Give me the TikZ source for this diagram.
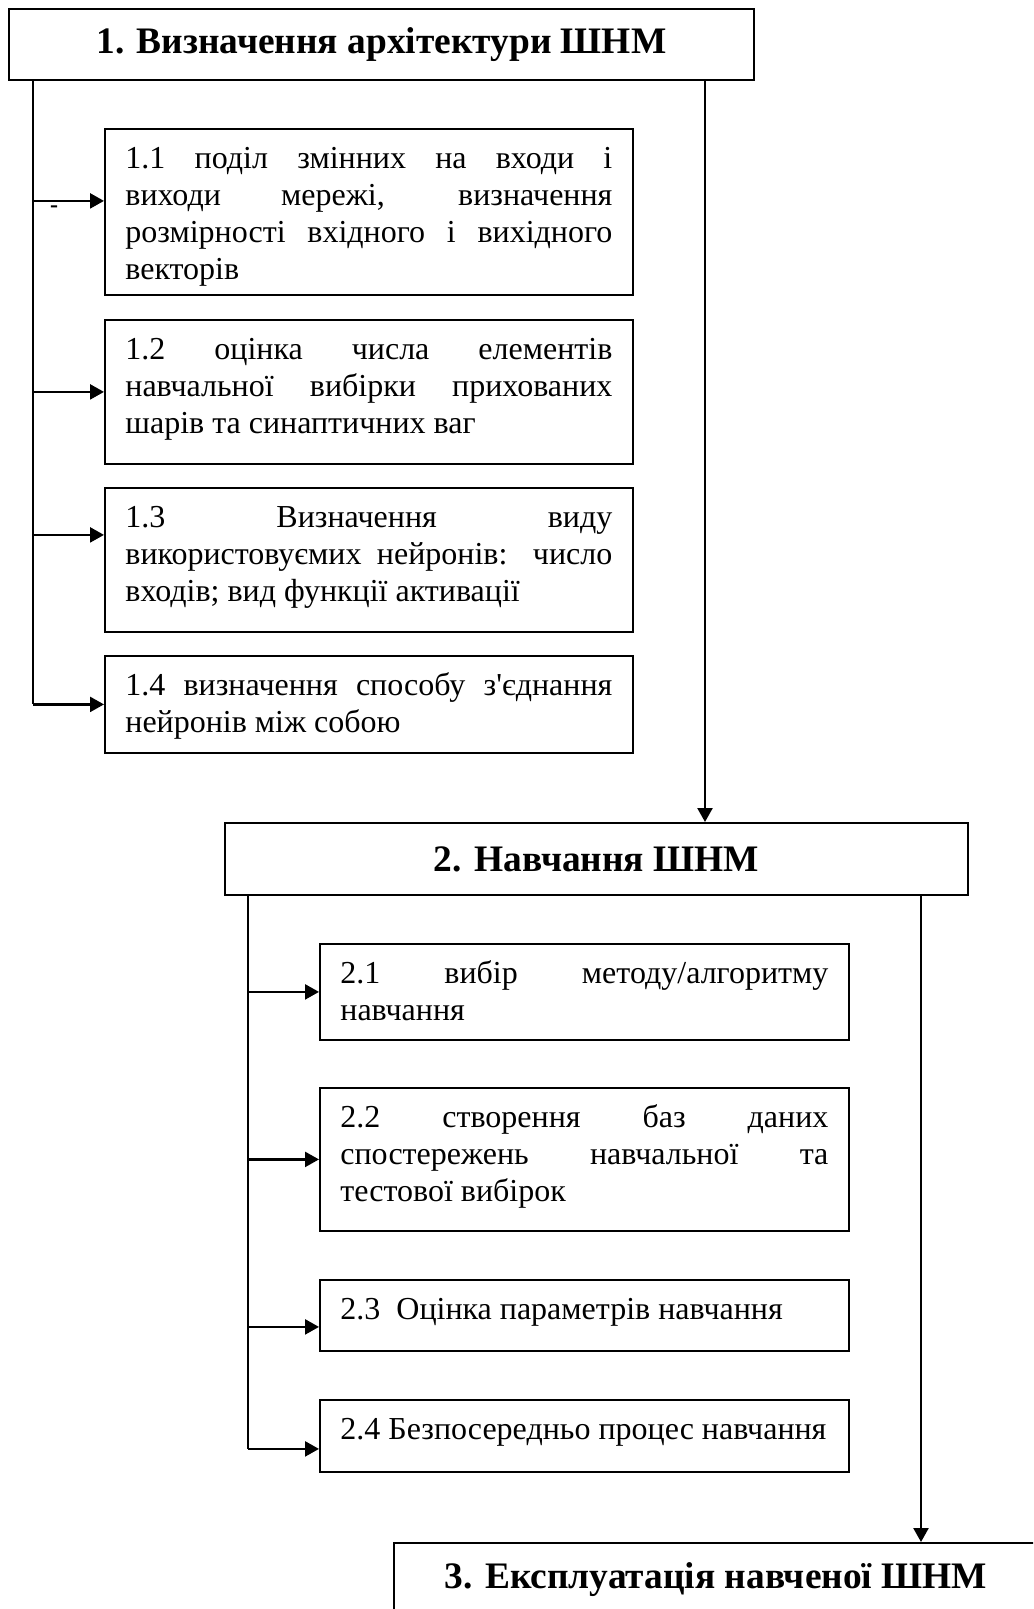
\documentclass[tikz,border=0pt]{standalone}
\usepackage{fontspec}
\setmainfont{Liberation Serif}
\usetikzlibrary{arrows.meta}
\tolerance=10000
\hyphenpenalty=10000
\exhyphenpenalty=10000
\begin{document}
\begin{tikzpicture}[x=0.5bp,y=-0.5bp,
  every node/.style={inner sep=0pt},
  stage/.style={draw, line width=0.9bp, anchor=north west,
    font=\bfseries\fontsize{18.7bp}{22bp}\selectfont},
  sub/.style={draw, line width=0.9bp, anchor=north west, align=justify,
    inner xsep=10.25bp, inner ysep=0pt, text width=243.5bp, text height=20bp,
    font=\fontsize{16bp}{18.45bp}\selectfont},
  arr/.style={line width=1.2bp, -{Triangle[length=7bp,width=7.5bp]}},
  trunk/.style={line width=1bp}]
\clip (0,0) rectangle (1033,1609);

% main stages
\node[stage, minimum width=372.5bp, minimum height=35.5bp] (b1) at (8,8)
  {1. Визначення архітектури ШНМ};
\node[stage, minimum width=371.5bp, minimum height=36bp] (b2) at (224,822)
  {2. Навчання ШНМ};
\node[stage, minimum width=322bp, minimum height=37bp] (b3) at (393,1542)
  {3. Експлуатація навченої ШНМ};

% sub-steps of stage 1
\node[sub, text depth=63bp] (b11) at (104,128)
  {1.1 поділ змінних на входи і\linebreak виходи мережі, визначення\linebreak
   розмірності вхідного і вихідного\linebreak векторів};
\node[sub, text depth=52bp] (b12) at (104,319)
  {1.2 оцінка числа елементів\linebreak навчальної вибірки прихованих\linebreak
   шарів та синаптичних ваг};
\node[sub, text depth=52bp] (b13) at (104,487)
  {1.3 Визначення виду\linebreak використовуємих нейронів: число\linebreak
   входів; вид функції активації};
\node[sub, text depth=28.5bp] (b14) at (104,655)
  {1.4 визначення способу з\textquotesingle єднання\linebreak нейронів між собою};

% sub-steps of stage 2
\node[sub, text depth=28bp, text width=244bp] (b21) at (319,943)
  {2.1 вибір методу/алгоритму\linebreak навчання};
\node[sub, text depth=51.5bp, text width=244bp] (b22) at (319,1087)
  {2.2 створення баз даних\linebreak спостережень навчальної та\linebreak
   тестової вибірок};
\node[sub, text depth=15.5bp, text width=244bp] (b23) at (319,1279)
  {2.3\ \ Оцінка параметрів навчання};
\node[sub, text depth=16bp, text width=244bp] (b24) at (319,1399)
  {2.4 Безпосередньо процес навчання};

% connector columns
\coordinate (ax1) at (33,0);
\coordinate (ax2) at (705,0);
\coordinate (ax3) at (248,0);
\coordinate (ax4) at (921,0);

% stage 1 branches
\draw[trunk] (b1.south west -| ax1) -- (b14.west -| ax1);
\draw[arr] ([yshift=5.5bp]b11.west -| ax1) -- ([yshift=5.5bp]b11.west);
\draw[arr] (b12.west -| ax1) -- (b12.west);
\draw[arr] ([yshift=12.5bp]b13.west -| ax1) -- ([yshift=12.5bp]b13.west);
\draw[arr] (b14.west -| ax1) -- (b14.west);
\node[font=\bfseries\fontsize{12bp}{14bp}\selectfont] (tick) at (54,209) {-};

% stage 2 branches
\draw[trunk] (b2.south west -| ax3) -- ([yshift=-6.5bp]b24.west -| ax3);
\draw[arr] (b21.west -| ax3) -- (b21.west);
\draw[arr] (b22.west -| ax3) -- (b22.west);
\draw[arr] ([yshift=-5.75bp]b23.west -| ax3) -- ([yshift=-5.75bp]b23.west);
\draw[arr] ([yshift=-6.5bp]b24.west -| ax3) -- ([yshift=-6.5bp]b24.west);

% flow between stages
\draw[arr] (b1.south west -| ax2) -- (b2.north west -| ax2);
\draw[arr] (b2.south west -| ax4) -- (b3.north west -| ax4);
\end{tikzpicture}
\end{document}
